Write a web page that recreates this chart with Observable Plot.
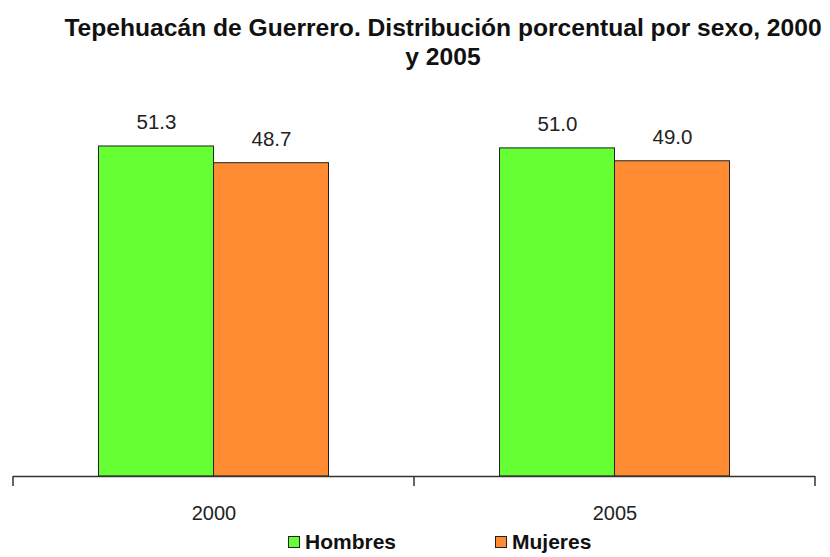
<!DOCTYPE html>
<html>
<head>
<meta charset="utf-8">
<script src="https://cdn.jsdelivr.net/npm/d3@7"></script>
<script src="https://cdn.jsdelivr.net/npm/@observablehq/plot@0.6"></script>
<style>
  body { margin: 0; background: #fff; }
  #wrap { position: relative; width: 830px; height: 557px; overflow: hidden; font-family: "Liberation Sans", Arial, sans-serif; }
  #title { position: absolute; left: 0; top: 14px; width: 886px; text-align: center; font-weight: bold; font-size: 23px; line-height: 29px; color: #111; transform: scaleX(1.07); transform-origin: 443px 0; white-space: nowrap; }
  #legend { position: absolute; top: 530px; left: 0; width: 830px; font-weight: bold; font-size: 21px; color: #111; }
  .item { position: absolute; top: 0; display: flex; align-items: center; }
  .sw { width: 10px; height: 10px; border: 1px solid #222; margin-right: 5px; }
  #chart { position: absolute; left: 0; top: 0; }
</style>
</head>
<body>
<div id="wrap">
  <div id="chart"></div>
  <div id="title">Tepehuacán de Guerrero. Distribución porcentual por sexo, 2000<br>y 2005</div>
  <div id="legend"></div>
</div>
<script>
const years = ["2000", "2005"];
const sexes = ["Hombres", "Mujeres"];
const hombres = [51.3, 51.0];
const mujeres = [48.7, 49.0];
const colors = ["#66ff33", "#ff8c33"];

const data = [];
years.forEach((y, i) => {
  data.push({year: y, sex: "Hombres", value: hombres[i]});
  data.push({year: y, sex: "Mujeres", value: mujeres[i]});
});

const W = 830, H = 557;
const mL = 13, mR = 15;
const band = (W - mL - mR) / years.length;
const barW = 115;
const outer = (band - 2 * barW) / 2;

function insetsFor(sex) {
  return sex === "Hombres"
    ? {insetLeft: outer, insetRight: band - outer - barW}
    : {insetLeft: outer + barW, insetRight: outer};
}

const marks = [];
sexes.forEach(s => {
  const sub = data.filter(d => d.sex === s);
  const ins = insetsFor(s);
  marks.push(Plot.barY(sub, {x: "year", y: "value", fill: "sex", stroke: "#222", strokeWidth: 1, ...ins}));
  const cx = (ins.insetLeft + barW / 2) - band / 2;
  marks.push(Plot.text(sub, {x: "year", y: "value", text: d => d.value.toFixed(1), dx: cx, dy: -24, fontSize: 20.5, fill: "#222"}));
});
// baseline and boundary ticks
marks.push(Plot.ruleY([0], {stroke: "#333", strokeWidth: 1.5}));
marks.push((index, scales, values, dims) => {
  const g = d3.create("svg:g").attr("stroke", "#333").attr("stroke-width", 1.5);
  const x = scales.x, y0 = scales.y(0);
  const edges = years.map(y => x(y)).concat([x(years[years.length - 1]) + x.bandwidth()]);
  edges.forEach(e => g.append("line").attr("x1", e).attr("x2", e).attr("y1", y0).attr("y2", y0 + 10));
  return g.node();
});

const chart = Plot.plot({
  width: W, height: H,
  marginLeft: mL, marginRight: mR, marginTop: 90, marginBottom: 81,
  style: {fontFamily: "Liberation Sans, Arial, sans-serif", background: "transparent"},
  x: {domain: years, padding: 0, label: null},
  y: {domain: [0, 60], axis: null},
  color: {domain: sexes, range: colors},
  marks: [
    Plot.axisX({tickSize: 0, tickPadding: 29, fontSize: 20, fill: "#222"}),
    ...marks
  ]
});
document.getElementById("chart").appendChild(chart);

const legend = document.getElementById("legend");
const legPos = [288, 495];
sexes.forEach((s, i) => {
  const it = document.createElement("div");
  it.className = "item";
  it.style.left = legPos[i] + "px";
  const sw = document.createElement("span");
  sw.className = "sw";
  sw.style.background = colors[i];
  const t = document.createElement("span");
  t.textContent = s;
  it.appendChild(sw); it.appendChild(t);
  legend.appendChild(it);
});
</script>
</body>
</html>
